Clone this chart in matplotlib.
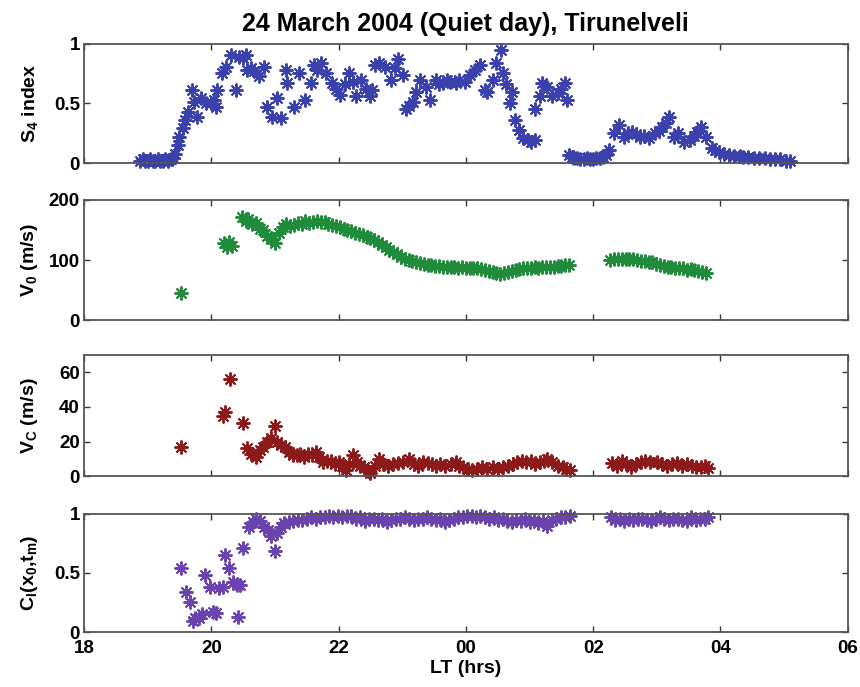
import matplotlib
matplotlib.use("Agg")
import matplotlib.pyplot as plt

plt.rcParams['font.family'] = ['Liberation Sans', 'DejaVu Sans']
plt.rcParams['font.weight'] = 'bold'
plt.rcParams['mathtext.fontset'] = 'custom'
plt.rcParams['mathtext.bf'] = 'Liberation Sans:bold'
plt.rcParams['mathtext.rm'] = 'Liberation Sans:bold'
plt.rcParams['mathtext.default'] = 'bf'

title = "24 March 2004 (Quiet day), Tirunelveli"
xlabel = "LT (hrs)"
x_ticks = [18, 20, 22, 24, 26, 28, 30]
x_ticklabels = ["18", "20", "22", "00", "02", "04", "06"]

# S4 index
s4_t = [18.88, 18.92, 18.96, 19.00, 19.04, 19.08, 19.12, 19.16, 19.20, 19.24,
        19.28, 19.32, 19.36, 19.40, 19.43, 19.47, 19.50, 19.55, 19.59, 19.63,
        19.70, 19.73, 19.78, 19.84, 19.92, 20.00, 20.04, 20.08, 20.09, 20.17,
        20.23, 20.31, 20.39, 20.44, 20.50, 20.55, 20.56, 20.62, 20.67, 20.75,
        20.83, 20.88, 20.95, 21.03, 21.09, 21.17, 21.19, 21.30, 21.38, 21.48,
        21.56, 21.61, 21.66, 21.72, 21.80, 21.89, 21.96, 22.03, 22.10, 22.16,
        22.22, 22.27, 22.36, 22.43, 22.50, 22.52, 22.58, 22.63, 22.73, 22.83,
        22.88, 22.94, 23.02, 23.06, 23.11, 23.17, 23.22, 23.28, 23.38, 23.44,
        23.53, 23.58, 23.64, 23.70, 23.75, 23.84, 23.90, 23.98, 24.06, 24.14,
        24.22, 24.30, 24.34, 24.42, 24.47, 24.55, 24.58, 24.63, 24.69, 24.73,
        24.77, 24.84, 24.89, 24.97, 25.03, 25.08, 25.09, 25.17, 25.19, 25.28,
        25.36, 25.44, 25.50, 25.55, 25.59, 25.62, 25.66, 25.70, 25.75, 25.80,
        25.85, 25.90, 25.95, 26.00, 26.05, 26.10, 26.15, 26.20, 26.25, 26.33,
        26.41, 26.48, 26.55, 26.61, 26.67, 26.73, 26.80, 26.88, 26.97, 27.03,
        27.08, 27.14, 27.19, 27.27, 27.34, 27.42, 27.52, 27.58, 27.63, 27.70,
        27.78, 27.86, 27.92, 27.98, 28.06, 28.14, 28.22, 28.30, 28.36, 28.44,
        28.52, 28.61, 28.70, 28.78, 28.86, 28.94, 29.03, 29.10]
s4_v = [0.02, 0.03, 0.02, 0.02, 0.03, 0.02, 0.02, 0.03, 0.02, 0.02,
        0.03, 0.02, 0.03, 0.04, 0.08, 0.15, 0.22, 0.29, 0.36, 0.43,
        0.61, 0.51, 0.39, 0.55, 0.50, 0.50, 0.53, 0.47, 0.61, 0.76,
        0.81, 0.91, 0.61, 0.89, 0.88, 0.91, 0.78, 0.80, 0.77, 0.73,
        0.81, 0.47, 0.39, 0.55, 0.38, 0.78, 0.67, 0.47, 0.76, 0.53,
        0.67, 0.82, 0.78, 0.84, 0.76, 0.67, 0.62, 0.57, 0.66, 0.76,
        0.68, 0.56, 0.70, 0.62, 0.56, 0.61, 0.82, 0.84, 0.81, 0.70,
        0.80, 0.87, 0.74, 0.45, 0.48, 0.51, 0.60, 0.70, 0.64, 0.53,
        0.70, 0.66, 0.67, 0.70, 0.68, 0.67, 0.70, 0.68, 0.74, 0.78,
        0.82, 0.61, 0.60, 0.70, 0.84, 0.95, 0.76, 0.66, 0.50, 0.60,
        0.36, 0.28, 0.21, 0.19, 0.18, 0.19, 0.45, 0.56, 0.67, 0.64,
        0.56, 0.59, 0.62, 0.67, 0.53, 0.07, 0.05, 0.04, 0.04, 0.03,
        0.03, 0.04, 0.03, 0.03, 0.04, 0.04, 0.05, 0.07, 0.11, 0.25,
        0.32, 0.22, 0.25, 0.26, 0.24, 0.22, 0.23, 0.21, 0.25, 0.27,
        0.30, 0.34, 0.39, 0.22, 0.25, 0.18, 0.19, 0.23, 0.26, 0.30,
        0.22, 0.13, 0.11, 0.09, 0.08, 0.07, 0.06, 0.06, 0.05, 0.05,
        0.04, 0.04, 0.04, 0.03, 0.03, 0.03, 0.02, 0.02]

# V0 (m/s)
v0_t = [19.53, 20.20, 20.24, 20.28, 20.32, 20.48, 20.54, 20.58, 20.64, 20.70,
        20.76, 20.82, 20.88, 20.94, 21.00, 21.06, 21.12, 21.18, 21.24, 21.30,
        21.36, 21.42, 21.48, 21.54, 21.60, 21.66, 21.72, 21.78, 21.84, 21.90,
        21.96, 22.02, 22.08, 22.14, 22.20, 22.26, 22.32, 22.38, 22.44, 22.50,
        22.56, 22.62, 22.68, 22.74, 22.80, 22.86, 22.92, 22.98, 23.04, 23.10,
        23.16, 23.22, 23.28, 23.34, 23.40, 23.46, 23.52, 23.58, 23.64, 23.70,
        23.76, 23.82, 23.88, 23.94, 24.00, 24.06, 24.12, 24.18, 24.24, 24.30,
        24.36, 24.42, 24.48, 24.54, 24.60, 24.66, 24.72, 24.78, 24.84, 24.90,
        24.96, 25.02, 25.08, 25.14, 25.20, 25.26, 25.32, 25.38, 25.44, 25.50,
        25.56, 25.62, 26.27, 26.33, 26.39, 26.45, 26.51, 26.57, 26.63, 26.69,
        26.75, 26.81, 26.87, 26.93, 26.99, 27.05, 27.11, 27.17, 27.23, 27.29,
        27.35, 27.41, 27.47, 27.53, 27.59, 27.65, 27.71, 27.77]
v0_v = [45, 128, 122, 130, 124, 172, 165, 168, 160, 162,
        152, 150, 140, 135, 128, 145, 155, 160, 157, 158,
        162, 160, 165, 162, 163, 165, 163, 164, 160, 158,
        157, 155, 152, 150, 148, 145, 144, 141, 138, 136,
        133, 130, 125, 121, 117, 113, 110, 105, 102, 100,
        98, 96, 95, 93, 92, 91, 90, 90, 89, 88,
        88, 88, 87, 88, 87, 87, 86, 86, 85, 84,
        82, 80, 78, 76, 78, 80, 82, 84, 85, 86,
        87, 87, 88, 87, 88, 88, 89, 89, 90, 90,
        91, 92, 100, 101, 102, 101, 102, 102, 101, 100,
        99, 98, 97, 96, 94, 92, 90, 88, 88, 87,
        87, 86, 84, 85, 84, 82, 80, 79]

# VC (m/s)
vc_t = [19.53, 20.18, 20.22, 20.30, 20.50, 20.56, 20.63, 20.70, 20.76, 20.82,
        20.88, 20.94, 21.00, 21.04, 21.10, 21.16, 21.22, 21.28, 21.34, 21.40,
        21.46, 21.52, 21.58, 21.64, 21.70, 21.76, 21.82, 21.88, 21.94, 22.00,
        22.06, 22.11, 22.17, 22.23, 22.29, 22.34, 22.40, 22.46, 22.50, 22.57,
        22.63, 22.70, 22.78, 22.86, 22.94, 23.02, 23.10, 23.18, 23.25, 23.33,
        23.41, 23.47, 23.53, 23.60, 23.68, 23.76, 23.84, 23.90, 23.96, 24.04,
        24.10, 24.18, 24.26, 24.34, 24.42, 24.50, 24.58, 24.66, 24.74, 24.81,
        24.88, 24.95, 25.02, 25.08, 25.16, 25.22, 25.28, 25.36, 25.44, 25.52,
        25.58, 25.63, 26.30, 26.37, 26.45, 26.52, 26.60, 26.68, 26.75, 26.82,
        26.90, 27.00, 27.08, 27.16, 27.24, 27.31, 27.40, 27.48, 27.55, 27.62,
        27.70, 27.76, 27.81]
vc_v = [17, 35, 37, 56, 31, 16, 13, 11, 15, 17,
        20, 22, 29, 20, 18, 17, 14, 12, 12, 13,
        11, 13, 12, 14, 11, 8, 9, 9, 7, 8,
        6, 3.5, 7, 12, 8, 6, 5, 3, 2, 6,
        10, 7, 6, 7, 7.5, 8, 10, 7, 6, 8,
        7.5, 7, 6, 7, 6, 7, 8, 6, 5, 4,
        3.5, 4, 5, 4, 5, 4, 5, 6, 7, 8,
        9, 8, 9, 7, 8, 9, 10, 8, 6, 5,
        4, 3.5, 7.5, 6, 9, 7, 5, 7, 8, 9,
        8, 8, 7, 6, 7, 7.5, 6, 7, 6, 5,
        5, 6, 4.5]

# CI(x0, tm)
ci_t = [19.53, 19.60, 19.66, 19.72, 19.75, 19.80, 19.86, 19.90, 19.98, 20.03,
        20.08, 20.12, 20.18, 20.22, 20.28, 20.34, 20.40, 20.42, 20.45, 20.50,
        20.59, 20.65, 20.70, 20.76, 20.83, 20.89, 20.94, 21.00, 21.04, 21.09,
        21.15, 21.22, 21.29, 21.36, 21.43, 21.50, 21.57, 21.64, 21.71, 21.78,
        21.85, 21.92, 21.99, 22.06, 22.13, 22.20, 22.27, 22.34, 22.41, 22.48,
        22.55, 22.62, 22.69, 22.76, 22.83, 22.90, 22.97, 23.04, 23.11, 23.18,
        23.25, 23.32, 23.39, 23.46, 23.53, 23.60, 23.67, 23.74, 23.81, 23.88,
        23.95, 24.02, 24.09, 24.16, 24.23, 24.30, 24.37, 24.44, 24.51, 24.58,
        24.65, 24.72, 24.79, 24.86, 24.93, 25.00, 25.07, 25.14, 25.21, 25.28,
        25.35, 25.42, 25.49, 25.56, 25.63, 26.28, 26.35, 26.42, 26.49, 26.56,
        26.63, 26.70, 26.77, 26.84, 26.91, 26.98, 27.05, 27.12, 27.19, 27.26,
        27.33, 27.40, 27.47, 27.54, 27.61, 27.68, 27.75, 27.81]
ci_v = [0.54, 0.34, 0.25, 0.09, 0.12, 0.12, 0.15, 0.48, 0.38, 0.17,
        0.16, 0.37, 0.38, 0.65, 0.54, 0.42, 0.40, 0.13, 0.40, 0.71,
        0.89, 0.93, 0.96, 0.94, 0.89, 0.86, 0.81, 0.69, 0.84, 0.89,
        0.92, 0.93, 0.94, 0.95, 0.95, 0.96, 0.97, 0.96, 0.97, 0.97,
        0.98, 0.97, 0.98, 0.97, 0.98, 0.98, 0.96, 0.97, 0.94, 0.96,
        0.96, 0.95, 0.96, 0.93, 0.95, 0.96, 0.96, 0.97, 0.96, 0.95,
        0.96, 0.96, 0.97, 0.96, 0.95, 0.96, 0.93, 0.95, 0.96, 0.97,
        0.97, 0.98, 0.98, 0.97, 0.98, 0.97, 0.96, 0.97, 0.95, 0.96,
        0.94, 0.93, 0.95, 0.94, 0.96, 0.93, 0.95, 0.92, 0.94, 0.90,
        0.95, 0.96, 0.97, 0.97, 0.98, 0.97, 0.95, 0.96, 0.94, 0.96,
        0.95, 0.96, 0.96, 0.95, 0.94, 0.96, 0.97, 0.96, 0.95, 0.96,
        0.96, 0.95, 0.94, 0.97, 0.95, 0.96, 0.96, 0.97]

panels = [
    dict(t=s4_t, v=s4_v, color='#3a41ab', ylim=(0, 1), yticks=[0, 0.5, 1],
         yticklabels=['0', '0.5', '1'], ylabel=r'S$_4$ index'),
    dict(t=v0_t, v=v0_v, color='#1f8b3b', ylim=(0, 200), yticks=[0, 100, 200],
         yticklabels=['0', '100', '200'], ylabel=r'V$_0$ (m/s)'),
    dict(t=vc_t, v=vc_v, color='#8c1a1a', ylim=(0, 70), yticks=[0, 20, 40, 60],
         yticklabels=['0', '20', '40', '60'], ylabel=r'V$_C$ (m/s)'),
    dict(t=ci_t, v=ci_v, color='#6a44ae', ylim=(0, 1), yticks=[0, 0.5, 1],
         yticklabels=['0', '0.5', '1'], ylabel=r'C$_I$(x$_0$,t$_m$)'),
]

fig = plt.figure(figsize=(8.6, 6.87), dpi=100)
left, width = 0.0977, 0.888
bottoms = [0.7627, 0.534, 0.307, 0.080]
heights = [0.1733, 0.175, 0.176, 0.172]
fs_tick = 13.5
fs_label = 14

for i, p in enumerate(panels):
    ax = fig.add_axes([left, bottoms[i], width, heights[i]])
    ax.plot(p['t'], p['v'], linestyle='none', marker=(8, 2, 0), markersize=10,
            markeredgewidth=1.4, color=p['color'], clip_on=False)
    ax.set_xlim(18, 30)
    ax.set_ylim(*p['ylim'])
    ax.set_xticks(x_ticks)
    ax.set_yticks(p['yticks'])
    ax.set_yticklabels(p['yticklabels'], fontsize=fs_tick, fontweight='bold')
    ax.set_ylabel(p['ylabel'], fontsize=fs_label, fontweight='bold')
    ax.tick_params(direction='in', top=True, right=True, length=4, width=1.0,
                   color='#333333')
    ax.tick_params(axis='y', pad=3)
    ax.tick_params(axis='x', pad=6)
    for s in ax.spines.values():
        s.set_color('#555555')
        s.set_linewidth(1.3)
    if i == 3:
        ax.set_xticklabels(x_ticklabels, fontsize=fs_tick, fontweight='bold')
        ax.set_xlabel(xlabel, fontsize=fs_label, fontweight='bold', labelpad=2)
    else:
        ax.set_xticklabels([])
    if i == 0:
        ax.set_title(title, fontsize=18, fontweight='bold', pad=9)
    ax.yaxis.set_label_coords(-0.058, 0.5)

fig.savefig('out.png', dpi=100)
